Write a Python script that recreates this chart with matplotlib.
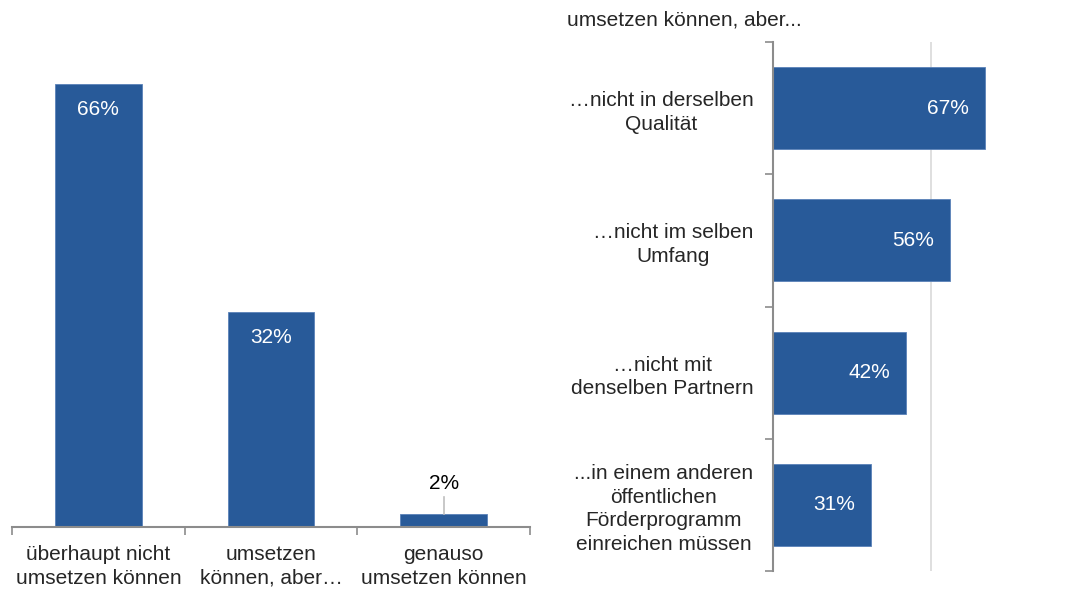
import numpy as np
import matplotlib.pyplot as plt

plt.rcParams['font.family'] = ['Liberation Sans', 'DejaVu Sans']
plt.rcParams['font.size'] = 15

# Daten links
links_kat = ['überhaupt nicht\numsetzen können', 'umsetzen\nkönnen, aber…', 'genauso\numsetzen können']
links_wert = [0.66, 0.32, 0.02]
links_label = ['66%', '32%', '2%']

# Daten rechts
rechts_titel = 'umsetzen können, aber...'
rechts_kat = ['…nicht in derselben\nQualität', '…nicht im selben\nUmfang',
              '…nicht mit\ndenselben Partnern',
              '...in einem anderen\nöffentlichen\nFörderprogramm\neinreichen müssen']
rechts_wert = [0.67, 0.56, 0.42, 0.31]
rechts_label = ['67%', '56%', '42%', '31%']

blau = '#285a99'
grau = '#8c8c8c'
text_farbe = '#262626'
fs = 15

fig = plt.figure(figsize=(10.79, 5.90), dpi=100)

# linker Teil
ax1 = fig.add_axes([12/1079, 1-527/590, 518/1079, 487/590])
x = np.arange(len(links_kat))
ax1.bar(x, links_wert, width=0.5, color=blau, edgecolor='#5a82b8', linewidth=0.6)
ax1.set_xlim(-0.5, 2.5)
ax1.set_ylim(0, 0.726)
for s in ['top', 'right', 'left']:
    ax1.spines[s].set_visible(False)
ax1.spines['bottom'].set_color(grau)
ax1.spines['bottom'].set_linewidth(1.5)
ax1.set_yticks([])
ax1.set_xticks(x)
ax1.set_xticklabels(links_kat, fontsize=fs, color=text_farbe, linespacing=1.3)
ax1.tick_params(axis='x', which='major', length=0, pad=13)
ax1.set_xticks([-0.5, 0.5, 1.5, 2.5], minor=True)
ax1.tick_params(axis='x', which='minor', length=6, color=grau, width=1.2)
for i, (v, lab) in enumerate(zip(links_wert, links_label)):
    if v > 0.1:
        ax1.text(i, v - 0.037, lab, ha='center', va='center', color='white', fontsize=fs)
    else:
        ax1.plot([i, i], [v, v + 0.025], color='#bfbfbf', lw=1.2)
        ax1.text(i, v + 0.045, lab, ha='center', va='center', color='black', fontsize=fs)

# rechter Teil
ax2 = fig.add_axes([773/1079, 1-571/590, 253/1079, 529/590])
y = np.arange(len(rechts_kat))
ax2.barh(y, rechts_wert, height=0.62, color=blau, edgecolor='#5a82b8', linewidth=0.6)
ax2.set_xlim(0, 0.8)
ax2.set_ylim(len(rechts_kat) - 0.5, -0.5)
for s in ['top', 'right', 'bottom']:
    ax2.spines[s].set_visible(False)
ax2.spines['left'].set_color(grau)
ax2.spines['left'].set_linewidth(1.5)
ax2.set_xticks([0.5])
ax2.set_xticklabels([])
ax2.tick_params(axis='x', length=0)
ax2.grid(axis='x', color='#d9d9d9', linewidth=1.2)
ax2.set_axisbelow(True)
ax2.set_yticks(y)
ax2.set_yticklabels(rechts_kat, fontsize=fs, color=text_farbe, multialignment='center', linespacing=1.3)
ax2.tick_params(axis='y', which='major', length=0, pad=14)
ax2.set_yticks(np.arange(-0.5, len(rechts_kat)), minor=True)
ax2.tick_params(axis='y', which='minor', length=6, color=grau, width=1.2)
for i, (v, lab) in enumerate(zip(rechts_wert, rechts_label)):
    ax2.text(v - 0.05, i, lab, ha='right', va='center', color='white', fontsize=fs)

fig.text(567/1079, 1-20/590, rechts_titel, ha='left', va='center', fontsize=fs, color=text_farbe)

fig.savefig('out.png', dpi=100)
